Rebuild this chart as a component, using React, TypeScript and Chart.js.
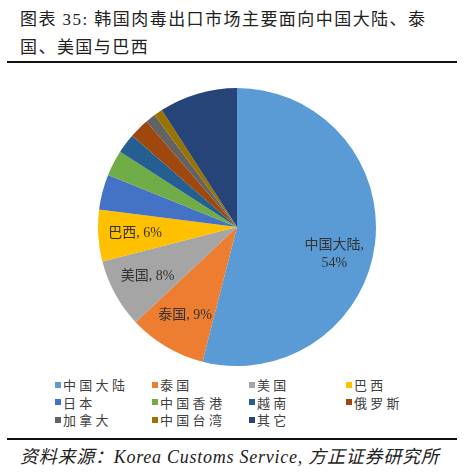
import React, { useEffect, useRef } from 'react';
import { Chart, registerables } from 'chart.js';

Chart.register(...registerables);

const categories = ['中国大陆', '泰国', '美国', '巴西', '日本', '中国香港', '越南', '俄罗斯', '加拿大', '中国台湾', '其它'];
const shares = [54, 9, 8, 6, 4.1, 3, 2.3, 2.3, 1.2, 1, 9.1];
const sliceColors = ['#5B9BD5', '#ED7D31', '#A5A5A5', '#FFC000', '#4472C4', '#70AD47', '#255E91', '#9E480E', '#636363', '#997300', '#264478'];
const labeledSlices = ['中国大陆', '泰国', '美国', '巴西'];

const CJK = '"Noto Sans CJK SC", "Noto Sans", sans-serif';
const SERIF_CJK = '"Liberation Serif", "Noto Sans CJK SC", serif';

// slice labels drawn inside the pie for the big slices
const sliceLabelPlugin = {
  id: 'sliceLabels',
  afterDatasetsDraw(chart: any) {
    const ctx = chart.ctx;
    const meta = chart.getDatasetMeta(0);
    ctx.save();
    ctx.fillStyle = '#333333';
    ctx.textAlign = 'center';
    ctx.textBaseline = 'middle';
    ctx.font = `14px ${SERIF_CJK}`;
    meta.data.forEach((arc: any, i: number) => {
      if (!labeledSlices.includes(categories[i])) return;
      const { x, y, startAngle, endAngle, outerRadius } = arc.getProps(['x', 'y', 'startAngle', 'endAngle', 'outerRadius'], true);
      const mid = (startAngle + endAngle) / 2;
      const r = outerRadius * 0.735;
      let lx = x + Math.cos(mid) * r;
      let ly = y + Math.sin(mid) * r;
      const pct = `${Math.round(shares[i])}%`;
      if (i === 0) {
        lx -= 4;
        ly += 15;
        ctx.fillText(`${categories[i]},`, lx, ly - 9);
        ctx.fillText(pct, lx, ly + 9);
      } else {
        ctx.fillText(`${categories[i]}, ${pct}`, lx, ly);
      }
    });
    ctx.restore();
  },
};

const PieChart: React.FC = () => {
  const chartRef = useRef<HTMLCanvasElement>(null);
  const chartInstanceRef = useRef<Chart | null>(null);

  useEffect(() => {
    if (!chartRef.current) return;
    if (chartInstanceRef.current) chartInstanceRef.current.destroy();
    const ctx = chartRef.current.getContext('2d');
    if (!ctx) return;
    chartInstanceRef.current = new Chart(ctx, {
      type: 'pie',
      data: {
        labels: categories,
        datasets: [{
          data: shares,
          backgroundColor: sliceColors,
          borderWidth: 0,
        }],
      },
      options: {
        animation: false,
        responsive: false,
        maintainAspectRatio: false,
        layout: { padding: 0 },
        plugins: {
          legend: { display: false },
          tooltip: { enabled: false },
        },
      },
      plugins: [sliceLabelPlugin],
    });
    return () => {
      if (chartInstanceRef.current) {
        chartInstanceRef.current.destroy();
        chartInstanceRef.current = null;
      }
    };
  }, []);

  return <canvas ref={chartRef} width={278} height={278} style={{ position: 'absolute', left: 98, top: 88, width: 278, height: 278 }} aria-label="韩国肉毒出口市场饼图"></canvas>;
};

const App: React.FC = () => {
  return (
    <div style={{ position: 'absolute', left: 0, top: 0, width: 469, height: 474, background: '#fff', overflow: 'hidden' }}>
      <div style={{ position: 'absolute', left: 20, top: 6, width: 449, fontFamily: SERIF_CJK, fontSize: 17, lineHeight: '28px', letterSpacing: 1.45, color: '#222', whiteSpace: 'nowrap' }}>
        <div>图表 35: 韩国肉毒出口市场主要面向中国大陆、泰</div>
        <div>国、美国与巴西</div>
      </div>
      <div style={{ position: 'absolute', left: 7, top: 61, width: 450, height: 2, background: '#111' }} />
      <PieChart />
      <div style={{ position: 'absolute', left: 55, top: 376, display: 'grid', gridTemplateColumns: 'repeat(4, 97px)', gridAutoRows: '17.5px', fontFamily: CJK, fontSize: 13, letterSpacing: 3.3, color: '#404040' }}>
        {categories.map((c, i) => (
          <div key={c} style={{ display: 'flex', alignItems: 'center', whiteSpace: 'nowrap' }}>
            <span style={{ display: 'inline-block', width: 6, height: 6, background: sliceColors[i], marginRight: 2 }} />
            <span>{c}</span>
          </div>
        ))}
      </div>
      <div style={{ position: 'absolute', left: 7, top: 438, width: 450, height: 2, background: '#111' }} />
      <div style={{ position: 'absolute', left: 20, top: 445, fontFamily: SERIF_CJK, fontStyle: 'italic', fontSize: 18, lineHeight: '24px', letterSpacing: 0.75, color: '#222', whiteSpace: 'nowrap' }}>
        资料来源：Korea Customs Service, 方正证券研究所
      </div>
    </div>
  );
};

export default App;
